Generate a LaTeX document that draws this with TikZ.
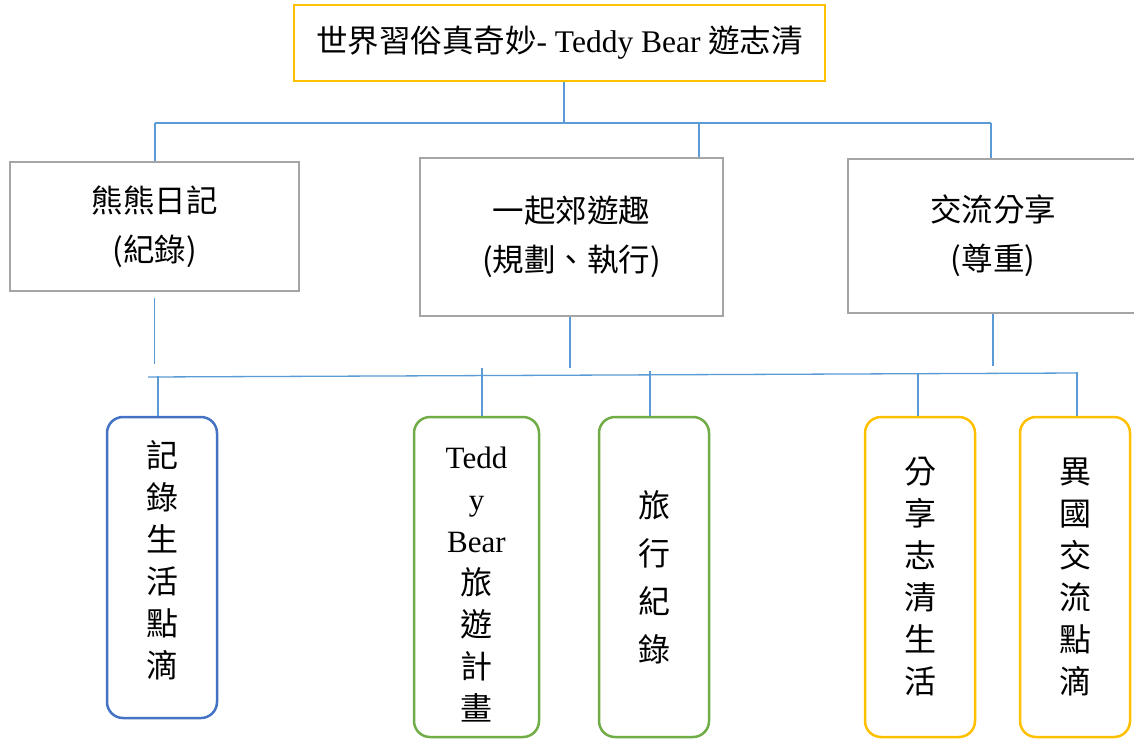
\documentclass[tikz,border=0pt]{standalone}
\usepackage{fontspec}
\setmainfont{Liberation Serif}
\newfontfamily\cjk{Noto Sans CJK TC}
\definecolor{gold}{HTML}{FFC000}
\definecolor{boxgray}{HTML}{A5A5A5}
\definecolor{connblue}{HTML}{5B9BD5}
\definecolor{bluebox}{HTML}{4472C4}
\definecolor{greenbox}{HTML}{70AD47}
\begin{document}
\begin{tikzpicture}[x=1pt,y=-1pt,
  topbox/.style={draw=gold,line width=2.5pt,inner sep=0pt,minimum width=531pt,minimum height=76pt,font=\fontsize{31.5}{36}\selectfont},
  midbox/.style={draw=boxgray,line width=2.5pt,inner sep=0pt,align=center,font=\cjk\fontsize{31.5}{49}\selectfont},
  leaf/.style={draw,rounded corners=16pt,line width=2.5pt,inner sep=0pt,minimum width=110pt,minimum height=320pt,align=center,font=\cjk\fontsize{32}{42}\selectfont},
  conn/.style={draw=connblue,line width=1.3pt}]
\useasboundingbox (0,0) rectangle (1134,740);
\clip (0,0) rectangle (1134,740);
\fill[white] (0,0) rectangle (1134,740);

% top
\node[topbox] (top) at (559.5,43) {{\cjk 世界習俗真奇妙}- Teddy Bear {\cjk 遊志清}};

% middle row
\node[midbox,minimum width=289pt,minimum height=129pt] (m1) at (154.5,226.5) {熊熊日記\\(紀錄)};
\node[midbox,minimum width=303pt,minimum height=158pt] (m2) at (571.5,237) {一起郊遊趣\\(規劃、執行)};
\node[midbox,minimum width=290pt,minimum height=154pt] (m3) at (993,236) {交流分享\\(尊重)};

% leaves
\node[leaf,draw=bluebox,minimum height=301pt] (b1) at (162,567.5) {\raisebox{-2.5pt}[0pt][0pt]{\begin{tabular}{@{}c@{}}記\\錄\\生\\活\\點\\滴\end{tabular}}};
\node[leaf,draw=greenbox,minimum width=125pt] (b2) at (476.5,577) {\raisebox{-15pt}[0pt][0pt]{\begin{tabular}{@{}c@{}}{\rmfamily\fontsize{31}{42}\selectfont Tedd}\\{\rmfamily\fontsize{31}{42}\selectfont y}\\{\rmfamily\fontsize{31}{42}\selectfont Bear}\\旅\\遊\\計\\畫\end{tabular}}};
\node[leaf,draw=greenbox,font=\cjk\fontsize{32}{48}\selectfont] (b3) at (654,577) {旅\\行\\紀\\錄};
\node[leaf,draw=gold] (b4) at (920,577) {分\\享\\志\\清\\生\\活};
\node[leaf,draw=gold] (b5) at (1075,577) {異\\國\\交\\流\\點\\滴};

% upper connectors
\coordinate (busL) at (155,123);
\coordinate (busR) at (991,123);
\coordinate (j2) at (699,123);
\draw[conn] ([xshift=4.5pt]top.south) -- ([xshift=4.5pt]top.south |- busL);
\draw[conn] (busL) -- (busR);
\draw[conn] (busL) -- (busL |- m1.north);
\draw[conn] (j2) -- (j2 |- m2.north);
\draw[conn] (busR) -- (busR |- m3.north);

% lower connectors
\coordinate (lowL) at (148,377);
\coordinate (lowR) at (1077,373);
\draw[conn] ([yshift=-6pt]m1.south) -- ++(0,66);
\draw[conn] ([xshift=-1.5pt]m2.south) -- ++(0,51);
\draw[conn] (m3.south) -- ++(0,52);
\draw[conn] (lowL) -- (lowR);
\draw[conn] ([xshift=-4pt]b1.north) -- ++(0,-40);
\draw[conn] ([xshift=5.5pt]b2.north) -- ++(0,-48);
\draw[conn] ([xshift=-4pt]b3.north) -- ++(0,-45);
\draw[conn] ([xshift=-2pt]b4.north) -- ++(0,-43);
\draw[conn] ([xshift=2pt]b5.north) -- ++(0,-44);
\end{tikzpicture}
\end{document}
